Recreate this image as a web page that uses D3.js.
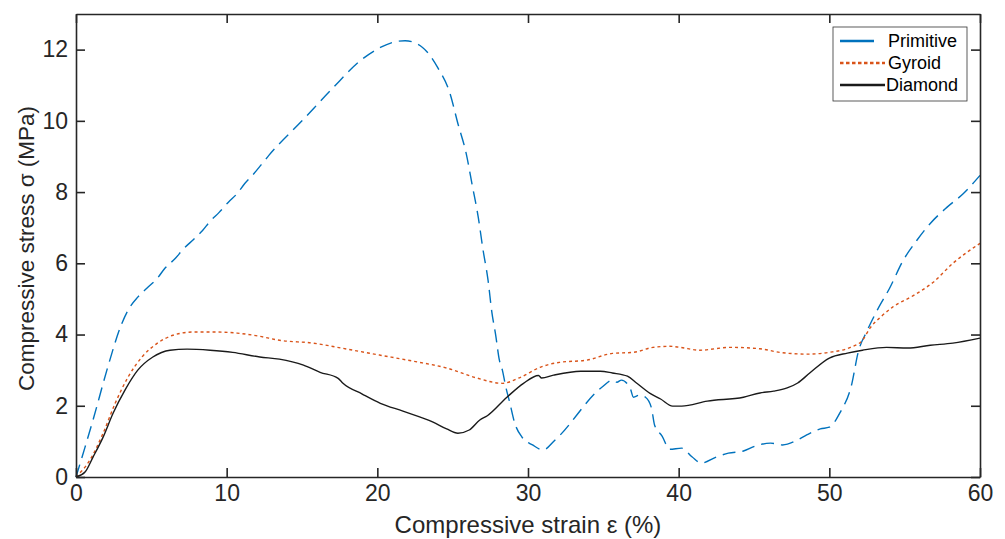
<!DOCTYPE html>
<html lang="en">
<head>
<meta charset="UTF-8">
<title>Compressive stress-strain</title>
<script src="https://cdnjs.cloudflare.com/ajax/libs/d3/7.8.5/d3.min.js"></script>
<style>
	body { margin: 0; background: #fff; }
	svg { font-family: Arial, "Liberation Sans", Helvetica, sans-serif; }
	.tick text { font-size: 23px; fill: #262626; }
</style>
</head>
<body>
<div id="chart"></div>
<script>
	// strain (%) / stress (MPa)
	const primitiveX = [0, 0.6, 1.13, 2.05, 3.05, 3.45, 4.1, 4.7, 5.4, 5.9, 6.6, 7.1, 7.8, 8.4, 8.9, 9.5, 10.1, 10.7, 11.2, 11.75, 12.3, 12.8, 15.0, 17.0, 18.9, 20.2, 21.0, 21.84, 23.0, 24.0, 24.8, 25.35, 25.9, 26.3, 26.7, 27.0, 27.35, 27.6, 27.85, 28.1, 28.3, 28.5, 28.8, 29.1, 29.6, 30.3, 31.0, 31.8, 34.9, 35.6, 35.9, 36.2, 36.8, 37.0, 37.4, 37.8, 38.2, 38.4, 38.9, 39.4, 40.2, 40.9, 41.5, 42.5, 43.3, 44.3, 45.1, 46.1, 46.9, 47.9, 48.5, 49.4, 50.0, 50.7, 51.5, 51.9, 52.5, 53.2, 54.0, 54.9, 55.8, 56.7, 57.8, 58.9, 60];
	const primitiveY = [0, 0.84, 1.6, 3.0, 4.32, 4.68, 5.05, 5.3, 5.58, 5.86, 6.14, 6.39, 6.67, 6.92, 7.18, 7.43, 7.71, 7.96, 8.24, 8.49, 8.77, 9.03, 10.0, 10.9, 11.7, 12.06, 12.2, 12.25, 12.06, 11.5, 10.8, 9.92, 9.08, 8.19, 7.29, 6.42, 5.52, 4.63, 4.0, 3.28, 3.0, 2.58, 2.07, 1.54, 1.12, 0.9, 0.76, 1.04, 2.52, 2.72, 2.66, 2.72, 2.47, 2.24, 2.3, 2.24, 1.93, 1.46, 1.15, 0.78, 0.81, 0.56, 0.39, 0.56, 0.67, 0.73, 0.87, 0.95, 0.9, 1.04, 1.18, 1.35, 1.4, 1.8, 2.63, 3.48, 4.1, 4.7, 5.3, 6.08, 6.64, 7.12, 7.57, 7.96, 8.47];

	const gyroidX = [0, 0.93, 1.8, 2.6, 3.45, 4.38, 5.38, 6.44, 7.77, 9.36, 10.7, 12.2, 13.5, 15.7, 18.0, 20.2, 22.4, 24.6, 26.6, 28.3, 29.5, 30.8, 32.1, 33.9, 35.6, 37.0, 38.3, 39.4, 40.1, 41.4, 43.4, 45.4, 46.7, 48.5, 50.0, 51.4, 52.2, 52.7, 53.4, 54.2, 55.6, 56.9, 58.2, 60];
	const gyroidY = [0, 0.48, 1.23, 2.07, 2.8, 3.37, 3.75, 3.98, 4.07, 4.07, 4.04, 3.95, 3.84, 3.76, 3.59, 3.42, 3.25, 3.06, 2.78, 2.63, 2.8, 3.08, 3.22, 3.28, 3.47, 3.5, 3.64, 3.67, 3.64, 3.56, 3.64, 3.6, 3.5, 3.45, 3.5, 3.64, 3.84, 4.18, 4.49, 4.77, 5.1, 5.47, 6.0, 6.56];

	const diamondX = [0, 0.6, 1.13, 1.8, 2.46, 3.25, 4.1, 5.1, 6.24, 7.37, 8.9, 10.4, 12.2, 13.5, 15.1, 16.2, 17.4, 17.7, 19.0, 20.2, 21.7, 23.7, 24.6, 25.35, 26.1, 26.8, 27.3, 28.6, 29.7, 30.7, 30.9, 31.7, 33.5, 34.8, 35.6, 36.6, 37.2, 38.1, 38.8, 39.6, 40.2, 41.9, 44.3, 45.4, 46.3, 47.2, 47.9, 48.7, 50.0, 51.2, 52.2, 53.8, 55.2, 56.7, 58.2, 60];
	const diamondY = [0, 0.14, 0.56, 1.12, 1.79, 2.44, 3.0, 3.37, 3.56, 3.59, 3.56, 3.5, 3.37, 3.31, 3.14, 2.94, 2.77, 2.64, 2.33, 2.07, 1.85, 1.54, 1.35, 1.23, 1.32, 1.6, 1.72, 2.24, 2.63, 2.85, 2.78, 2.86, 2.97, 2.97, 2.92, 2.83, 2.64, 2.35, 2.19, 1.99, 1.99, 2.13, 2.24, 2.36, 2.41, 2.5, 2.64, 2.92, 3.34, 3.48, 3.56, 3.64, 3.62, 3.7, 3.76, 3.9];

	const xTicks = [0, 10, 20, 30, 40, 50, 60];
	const yTicks = [0, 2, 4, 6, 8, 10, 12];
	const seriesNames = ["Primitive", "Gyroid", "Diamond"];

	const W = 1005, H = 539;
	const margin = { top: 14, right: 25, bottom: 62, left: 76 };
	const width = W - margin.left - margin.right;
	const height = H - margin.top - margin.bottom;

	const series = [
		{ name: seriesNames[0], xs: primitiveX, ys: primitiveY, color: "#0072BD", dash: "13,7", w: 1.4 },
		{ name: seriesNames[1], xs: gyroidX, ys: gyroidY, color: "#D95319", dash: "3,3", w: 1.4 },
		{ name: seriesNames[2], xs: diamondX, ys: diamondY, color: "#1a1a1a", dash: null, w: 1.4 }
	];

	const svg = d3.select("#chart").append("svg")
		.attr("width", W)
		.attr("height", H);

	const g = svg.append("g")
		.attr("transform", `translate(${margin.left},${margin.top})`);

	const x = d3.scaleLinear().domain([0, 60]).range([0, width]);
	const y = d3.scaleLinear().domain([0, 13]).range([height, 0]);

	const line = d3.line()
		.x(d => x(d[0]))
		.y(d => y(d[1]))
		.curve(d3.curveMonotoneX);

	series.forEach(s => {
		const pts = s.xs.map((v, i) => [v, s.ys[i]]);
		g.append("path")
			.datum(pts)
			.attr("fill", "none")
			.attr("stroke", s.color)
			.attr("stroke-width", s.w)
			.attr("stroke-dasharray", s.dash)
			.attr("d", line);
	});

	// axes, ticks pointing inward (box on)
	const axisColor = "#262626";
	const tickLen = 9;

	const xAxis = g.append("g")
		.attr("transform", `translate(0,${height})`)
		.call(d3.axisBottom(x).tickValues(xTicks).tickSizeInner(-tickLen).tickSizeOuter(0).tickPadding(8));
	const yAxis = g.append("g")
		.call(d3.axisLeft(y).tickValues(yTicks).tickSizeInner(-tickLen).tickSizeOuter(0).tickPadding(8));
	const xTop = g.append("g")
		.call(d3.axisTop(x).tickValues(xTicks).tickSizeInner(-tickLen).tickSizeOuter(0).tickFormat(""));
	const yRight = g.append("g")
		.attr("transform", `translate(${width},0)`)
		.call(d3.axisRight(y).tickValues(yTicks).tickSizeInner(-tickLen).tickSizeOuter(0).tickFormat(""));

	[xAxis, yAxis, xTop, yRight].forEach(a => {
		a.select(".domain").attr("stroke", axisColor).attr("stroke-width", 1.6);
		a.selectAll(".tick line").attr("stroke", axisColor).attr("stroke-width", 1.6);
	});
	xAxis.selectAll(".tick text").attr("fill", axisColor);
	yAxis.selectAll(".tick text").attr("fill", axisColor);

	// axis labels
	svg.append("text")
		.attr("x", margin.left + width / 2)
		.attr("y", 533)
		.attr("text-anchor", "middle")
		.attr("font-size", 24)
		.attr("fill", axisColor)
		.text("Compressive strain ε (%)");

	svg.append("text")
		.attr("transform", `translate(34,${margin.top + height / 2 + 3}) rotate(-90)`)
		.attr("text-anchor", "middle")
		.attr("font-size", 22.5)
		.attr("fill", axisColor)
		.text("Compressive stress σ (MPa)");

	// legend
	const legend = svg.append("g").attr("transform", "translate(833,27)");
	legend.append("rect")
		.attr("width", 134)
		.attr("height", 74)
		.attr("fill", "#fff")
		.attr("stroke", "#333")
		.attr("stroke-width", 0.8);

	series.forEach((s, i) => {
		const ly = 14 + i * 22;
		legend.append("line")
			.attr("x1", 7)
			.attr("x2", i === 0 ? 41 : 52)
			.attr("y1", ly)
			.attr("y2", ly)
			.attr("stroke", s.color)
			.attr("stroke-width", 2.6)
			.attr("stroke-dasharray", i === 1 ? "3.5,2.5" : null);
		legend.append("text")
			.attr("x", i === 2 ? 53 : 55)
			.attr("y", ly)
			.attr("dy", "0.35em")
			.attr("font-size", 18)
			.attr("fill", "#000")
			.text(s.name);
	});
</script>
</body>
</html>
